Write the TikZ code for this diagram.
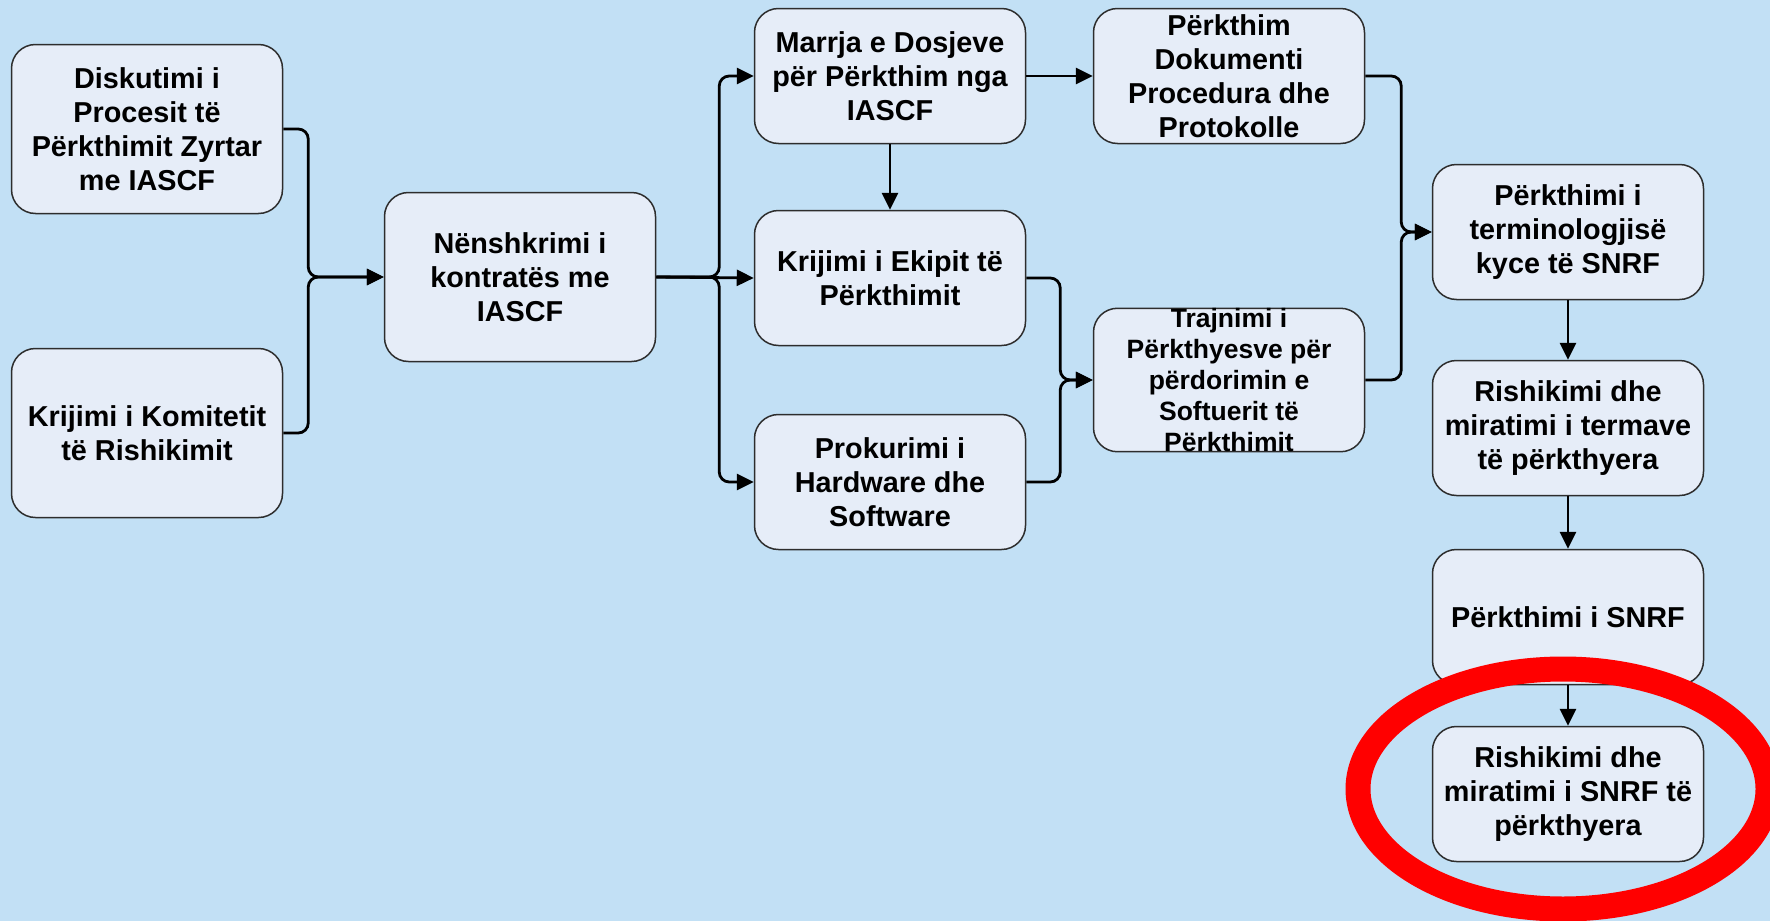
\documentclass[tikz,border=0pt]{standalone}
\usepackage{fontspec}
\setmainfont{Liberation Sans}
\usetikzlibrary{arrows.meta}
\definecolor{bgblue}{RGB}{194,224,245}
\definecolor{boxfill}{RGB}{230,237,248}
\definecolor{boxline}{RGB}{45,45,45}

\begin{document}
\begin{tikzpicture}[x=1pt, y=-1pt,
  box/.style={draw=boxline, line width=1.5pt, fill=boxfill, rounded corners=24pt,
    minimum width=271pt, minimum height=135pt, inner sep=0pt, align=center,
    font=\fontsize{28.8}{34}\selectfont\bfseries},
  tall/.style={minimum height=169pt},
  arr/.style={line width=2.8pt, rounded corners=10pt, -{Triangle[length=17pt,width=16pt]}}]
  \clip (0,0) rectangle (1770,921);
  \fill[bgblue] (0,0) rectangle (1770,921);

  % left column
  \node[box, tall] (disk) at (147,129) {Diskutimi i\\Procesit të\\Përkthimit Zyrtar\\me IASCF};
  \node[box, tall] (komit) at (147,433) {Krijimi i Komitetit\\të Rishikimit};
  \node[box, tall] (nensh) at (520,277) {Nënshkrimi i\\kontratës me\\IASCF};

  % middle columns
  \node[box] (marrja) at (890,76) {Marrja e Dosjeve\\për Përkthim nga\\IASCF};
  \node[box] (ekipi) at (890,278) {Krijimi i Ekipit të\\Përkthimit};
  \node[box] (prok) at (890,482) {Prokurimi i\\Hardware dhe\\Software};
  \node[box] (dok) at (1229,76) {Përkthim\\Dokumenti\\Procedura dhe\\Protokolle};
  \node[box, font=\fontsize{26.5}{31}\selectfont\bfseries] (trajn) at (1229,380)
    {Trajnimi i\\Përkthyesve për\\përdorimin e\\Softuerit të\\Përkthimit};

  % right column
  \node[box] (term) at (1568,232) {Përkthimi i\\terminologjisë\\kyce të SNRF};
  \node[box] (rterm) at (1568,428) {Rishikimi dhe\\miratimi i termave\\të përkthyera};
  \node[box] (snrf) at (1568,617) {Përkthimi i SNRF};
  \node[box] (rsnrf) at (1568,794) {Rishikimi dhe\\miratimi i SNRF të\\përkthyera};

  \draw[arr] (disk.east) -- ++(25,0) |- (nensh.west);
  \draw[arr] (komit.east) -- ++(25,0) |- (nensh.west);
  \draw[arr] (nensh.east) -- ++(63,0) |- (marrja.west);
  \draw[arr] (nensh.east) -- (ekipi.west);
  \draw[arr] (nensh.east) -- ++(63,0) |- (prok.west);
  \draw[arr] (marrja.south) -- (ekipi.north);
  \draw[arr] (marrja.east) -- (dok.west);
  \draw[arr] (ekipi.east) -- ++(34,0) |- (trajn.west);
  \draw[arr] (prok.east) -- ++(34,0) |- (trajn.west);
  \draw[arr] (dok.east) -- ++(36,0) |- (term.west);
  \draw[arr] (trajn.east) -- ++(36,0) |- (term.west);
  \draw[arr] (term.south) -- (rterm.north);
  \draw[arr] (rterm.south) -- (snrf.north);
  \draw[arr] (snrf.south) -- (rsnrf.north);

  \draw[red, line width=25pt] (1563,789) ellipse [x radius=205, y radius=120];
\end{tikzpicture}
\end{document}
